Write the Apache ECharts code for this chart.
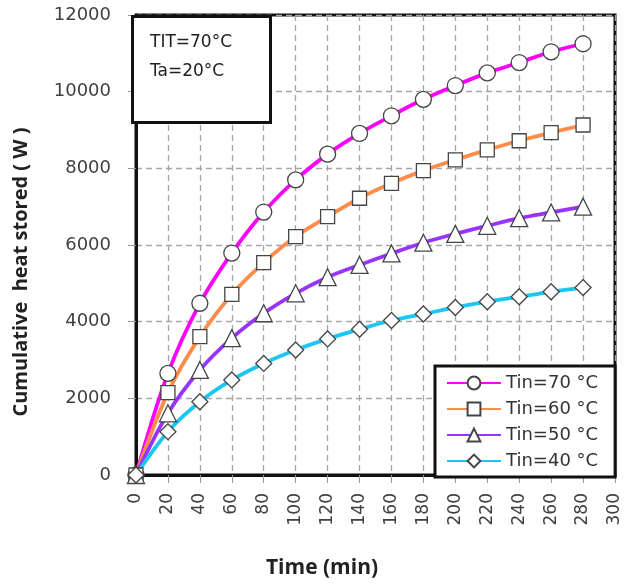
<!DOCTYPE html>
<html>
<head>
<meta charset="utf-8">
<script src="https://cdn.jsdelivr.net/npm/echarts@6/dist/echarts.min.js"></script>
<style>
html,body{margin:0;padding:0;background:#fff;}
#chart{width:625px;height:584px;}
</style>
</head>
<body>
<div id="chart"></div>
<script>
const times = [0, 20, 40, 60, 80, 100, 120, 140, 160, 180, 200, 220, 240, 260, 280];
const tin70 = [0, 2650, 4480, 5790, 6860, 7700, 8370, 8910, 9370, 9800, 10160, 10490, 10760, 11040, 11250];
const tin60 = [0, 2150, 3610, 4710, 5540, 6220, 6740, 7220, 7610, 7940, 8220, 8480, 8720, 8930, 9130];
const tin50 = [0, 1610, 2740, 3570, 4220, 4740, 5160, 5480, 5780, 6060, 6290, 6500, 6700, 6850, 7000];
const tin40 = [0, 1130, 1910, 2480, 2910, 3260, 3550, 3800, 4030, 4200, 4370, 4520, 4650, 4780, 4890];
const seriesNames = ['Tin=70 °C', 'Tin=60 °C', 'Tin=50 °C', 'Tin=40 °C'];
const seriesColors = ['#ff00ff', '#ff8c4b', '#9933ff', '#1cc6f2'];
const seriesSymbols = ['circle', 'rect', 'triangle', 'diamond'];
const seriesSizes = [16, 14, 17, 16];
const seriesData = [tin70, tin60, tin50, tin40];
const xTicks = [0, 300, 20];
const yTicks = [0, 12000, 2000];

const chart = echarts.init(document.getElementById('chart'), null, {renderer: 'canvas'});
const font = 'DejaVu Sans';

const series = seriesData.map((vals, i) => ({
  name: seriesNames[i],
  type: 'line',
  smooth: 0.35,
  data: times.map((t, j) => [t, vals[j]]),
  symbol: seriesSymbols[i],
  symbolSize: seriesSizes[i],
  color: seriesColors[i],
  lineStyle: {color: seriesColors[i], width: 3.8},
  itemStyle: {color: '#ffffff', borderColor: '#444444', borderWidth: 1.3}
}));

chart.setOption({
  animation: false,
  backgroundColor: '#ffffff',
  grid: {left: 136, right: 10, top: 15, bottom: 109, show: true, borderColor: '#111', borderWidth: 3, backgroundColor: 'transparent'},
  xAxis: {
    type: 'value', min: xTicks[0], max: xTicks[1], interval: xTicks[2],
    axisLine: {show: true, onZero: false, lineStyle: {color: '#111', width: 3}},
    axisTick: {show: true, length: 8, lineStyle: {color: '#999'}},
    axisLabel: {rotate: 90, margin: 18, fontFamily: font, fontSize: 17, color: '#404040', formatter: v => String(v)},
    splitLine: {show: true, lineStyle: {color: '#a6a6a6', type: [6, 4], width: 1.3}}
  },
  yAxis: {
    type: 'value', min: yTicks[0], max: yTicks[1], interval: yTicks[2],
    axisLine: {show: true, lineStyle: {color: '#111', width: 3}},
    axisTick: {show: true, length: 8, lineStyle: {color: '#999'}},
    axisLabel: {margin: 25, fontFamily: font, fontSize: 18, color: '#404040', formatter: v => String(v)},
    splitLine: {show: true, lineStyle: {color: '#a6a6a6', type: [6, 4], width: 1.3}}
  },
  legend: {
    data: seriesNames,
    orient: 'vertical',
    left: 435, top: 366,
    backgroundColor: '#ffffff',
    borderColor: '#111', borderWidth: 3, borderRadius: 0,
    padding: [8, 17, 7, 11],
    itemGap: 8,
    itemWidth: 54, itemHeight: 16,
    textStyle: {fontFamily: font, fontSize: 18, color: '#333'},
    z: 20
  },
  graphic: [
    {type: 'rect', left: 131, top: 15, z: 30,
     shape: {width: 138, height: 106},
     style: {fill: '#ffffff', stroke: '#111', lineWidth: 3}},
    {type: 'text', left: 150, top: 34, z: 31,
     style: {text: 'TIT=70°C', font: '17px "DejaVu Sans"', fill: '#222'}},
    {type: 'text', left: 150, top: 63, z: 31,
     style: {text: 'Ta=20°C', font: '17px "DejaVu Sans"', fill: '#222'}},
    {type: 'text', x: 21, y: 272, rotation: Math.PI / 2, z: 31,
     style: {text: 'Cumulative  heat stored ( W )', font: 'bold 20px "Open Sans"', fill: '#222', align: 'center', verticalAlign: 'middle'}},
    {type: 'text', x: 322, y: 568, z: 31,
     style: {text: 'Time (min)', font: 'bold 21px "Open Sans"', fill: '#222', align: 'center', verticalAlign: 'middle'}}
  ],
  series: series
});
</script>
</body>
</html>
